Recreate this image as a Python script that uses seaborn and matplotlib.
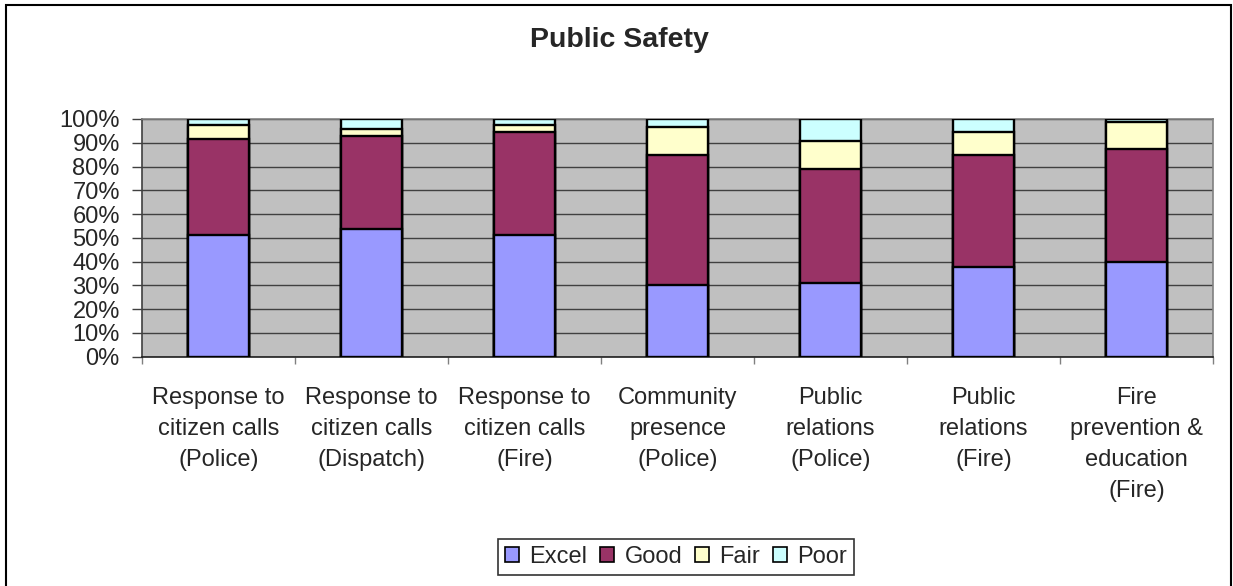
import matplotlib
matplotlib.use("Agg")
import matplotlib.pyplot as plt
from matplotlib.patches import Patch, Rectangle
from matplotlib.ticker import FixedLocator, PercentFormatter
import numpy as np
import pandas as pd
import seaborn as sns

# Survey ratings (percent of respondents) per service
categories = [
    "Response to\ncitizen calls\n(Police)",
    "Response to\ncitizen calls\n(Dispatch)",
    "Response to\ncitizen calls\n(Fire)",
    "Community\npresence\n(Police)",
    "Public\nrelations\n(Police)",
    "Public\nrelations\n(Fire)",
    "Fire\nprevention &\neducation\n(Fire)",
]
excel = [51.2, 53.6, 51.2, 30.2, 31.0, 37.6, 40.0]
good = [40.3, 39.4, 43.3, 54.7, 48.0, 47.3, 47.3]
fair = [6.0, 2.8, 3.0, 11.9, 11.7, 9.8, 11.6]
poor = [2.5, 4.2, 2.5, 3.2, 9.3, 5.3, 1.1]

series_names = ["Excel", "Good", "Fair", "Poor"]
series_colors = ["#9999FF", "#993366", "#FFFFCC", "#CCFFFF"]
y_ticks = list(range(0, 101, 10))

sns.set_theme(style="white")
plt.rcParams["font.family"] = ["Liberation Sans", "DejaVu Sans"]

df = pd.DataFrame({"category": categories, "Excel": excel, "Good": good,
                   "Fair": fair, "Poor": poor})
cum = df[series_names].cumsum(axis=1)

fig = plt.figure(figsize=(12.33, 5.86), dpi=100)
ax = fig.add_axes([0.1152, 0.3913, 0.9838 - 0.1152, 0.797 - 0.3913])
ax.set_facecolor("#C0C0C0")

# Stacked bars: draw cumulative totals from the top segment down
for name, color in reversed(list(zip(series_names, series_colors))):
    sns.barplot(x=df["category"], y=cum[name], color=color, saturation=1,
                width=0.4, edgecolor="black", linewidth=1.7, ax=ax, zorder=3)

ax.set_ylim(0, 100)
ax.set_xlim(-0.5, len(categories) - 0.5)
ax.yaxis.set_major_locator(FixedLocator(y_ticks))
ax.yaxis.set_major_formatter(PercentFormatter(decimals=0))
ax.grid(axis="y", color="#404040", linewidth=1.0, zorder=1)
ax.grid(axis="x", visible=False)
ax.set_axisbelow(True)
ax.set_xlabel("")
ax.set_ylabel("")

ax.tick_params(axis="y", which="major", left=True, length=7, width=1,
               color="#404040", labelsize=17, pad=9)
ax.tick_params(axis="x", which="major", bottom=False, length=0,
               labelsize=17, pad=22)
ax.xaxis.set_minor_locator(FixedLocator(np.arange(-0.5, len(categories), 1.0)))
ax.tick_params(axis="x", which="minor", bottom=True, length=5, width=1,
               color="#808080")
for lbl in ax.get_xticklabels():
    lbl.set_linespacing(1.52)
    lbl.set_verticalalignment("top")

for side in ["top", "right"]:
    ax.spines[side].set_color("#808080")
    ax.spines[side].set_linewidth(1.2)
ax.spines["left"].set_color("#404040")
ax.spines["bottom"].set_color("#202020")
ax.spines["left"].set_linewidth(1.2)
ax.spines["bottom"].set_linewidth(1.2)

fig.text(0.5025, 1 - 40 / 586, "Public Safety", ha="center", va="center",
         fontsize=20.5, fontweight="bold")

handles = [Patch(facecolor=c, edgecolor="black", linewidth=1.2)
           for c in series_colors]
leg = fig.legend(handles, series_names, loc="center",
                 bbox_to_anchor=(676 / 1233, 1 - 557 / 586), ncol=4,
                 fontsize=17, frameon=True, fancybox=False, borderpad=0.3,
                 handlelength=0.6, handleheight=0.6, handletextpad=0.42,
                 columnspacing=0.55, borderaxespad=0)
leg.get_frame().set_edgecolor("black")
leg.get_frame().set_linewidth(1.2)

# Outer chart frame
fig.patches.append(Rectangle((6 / 1233, -0.02), (1231 - 6) / 1233, 1 - 5 / 586 + 0.02,
                             transform=fig.transFigure, fill=False,
                             edgecolor="black", linewidth=1.5))

fig.savefig("out.png", dpi=100)
